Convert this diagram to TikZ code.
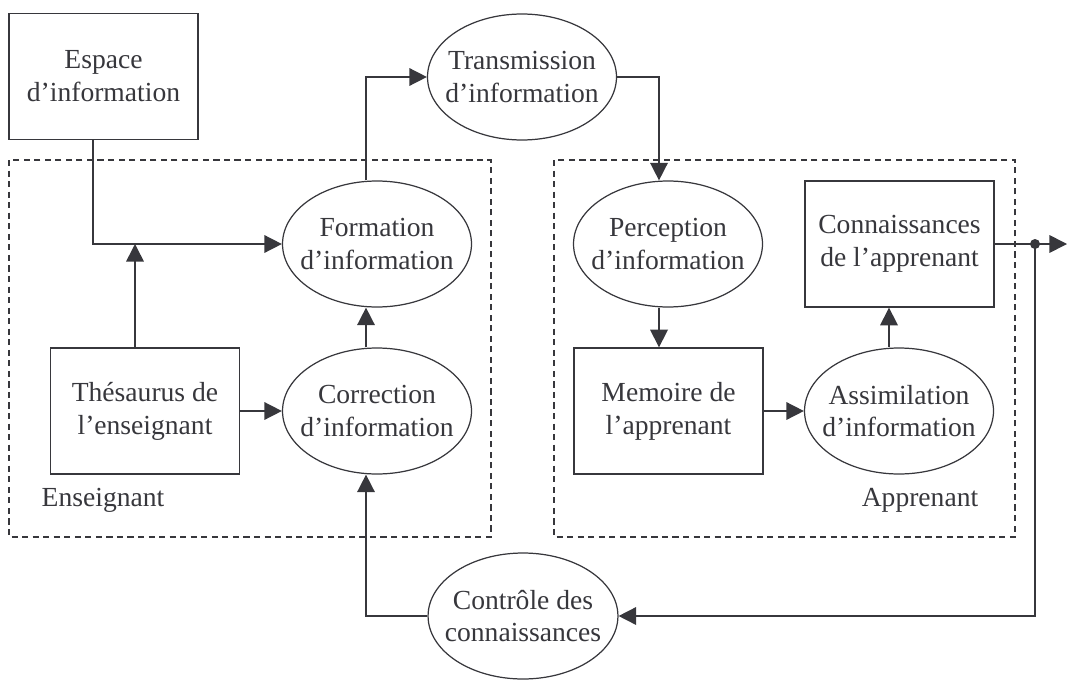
\documentclass[tikz,border=0pt]{standalone}
\usepackage{fontspec}
\setmainfont{Liberation Serif}
\usetikzlibrary{shapes.geometric,arrows.meta}
\definecolor{ink}{RGB}{55,55,60}

\begin{document}
\begin{tikzpicture}[x=0.02cm,y=-0.02cm,
  every node/.style={text=ink,font=\fontsize{15.7}{18.7}\selectfont},
  bloc/.style={draw=ink,line width=0.8pt,rectangle,minimum width=3.78cm,minimum height=2.52cm,inner sep=0pt,align=center},
  oval/.style={draw=ink,line width=0.7pt,ellipse,minimum width=3.78cm,minimum height=2.52cm,inner xsep=-0.22cm,inner ysep=0pt,align=center},
  zone/.style={draw=ink,line width=0.8pt,dash pattern=on 3.5pt off 2.5pt},
  fleche/.style={draw=ink,line width=0.9pt,-{Triangle[length=10pt,width=10pt]}}]
\useasboundingbox (0,0) rectangle (1067,679);

\draw[zone] (9,160) rectangle (491,537);
\draw[zone] (554,160) rectangle (1015,537);
\node (ens) at (103,500) {Enseignant};
\node (app) at (920,500) {Apprenant};

\node[bloc] (espace) at (103.5,76.5) {Espace\\d'information};
\node[oval] (transmission) at (522,77) {Transmission\\d'information};
\node[oval] (formation) at (377,244) {Formation\\d'information};
\node[bloc] (thesaurus) at (145,411) {Thésaurus de\\l'enseignant};
\node[oval] (correction) at (377,411) {Correction\\d'information};
\node[oval] (perception) at (668,244) {Perception\\d'information};
\node[bloc] (connaissances) at (899.5,244) {Connaissances\\de l'apprenant};
\node[bloc] (memoire) at (668.5,411) {Memoire de\\l'apprenant};
\node[oval] (assimilation) at (899,411) {Assimilation\\d'information};
\node[oval] (controle) at (523,616) {Contrôle des\\connaissances};

\coordinate (jEsp) at (93,244);
\coordinate (jThes) at (135,244);
\coordinate (jForm) at (366,77);
\coordinate (jTrans) at (659,77);
\coordinate (jAss) at (889,307);
\coordinate (point) at (1035,244);
\coordinate (sortie) at (1067,244);
\coordinate (jCtrl) at (1035,616);
\coordinate (jCorr) at (366,616);

\draw[fleche] (espace.south -| jEsp) -- (jEsp) -- (formation.west);
\draw[fleche] (thesaurus.north -| jThes) -- (jThes);
\draw[fleche] (thesaurus.east) -- (correction.west);
\draw[fleche] (correction.north -| jForm) -- (formation.south -| jForm);
\draw[fleche] (formation.north -| jForm) -- (jForm) -- (transmission.west);
\draw[fleche] (transmission.east) -- (jTrans) -- (perception.north -| jTrans);
\draw[fleche] (perception.south -| jTrans) -- (memoire.north -| jTrans);
\draw[fleche] (memoire.east) -- (assimilation.west);
\draw[fleche] (assimilation.north -| jAss) -- (connaissances.south -| jAss);
\draw[fleche] (connaissances.east) -- (sortie);
\fill[ink] (point) circle (5);
\draw[fleche] (point) -- (jCtrl) -- (controle.east);
\draw[fleche] (controle.west) -- (jCorr) -- (correction.south -| jCorr);
\end{tikzpicture}
\end{document}
